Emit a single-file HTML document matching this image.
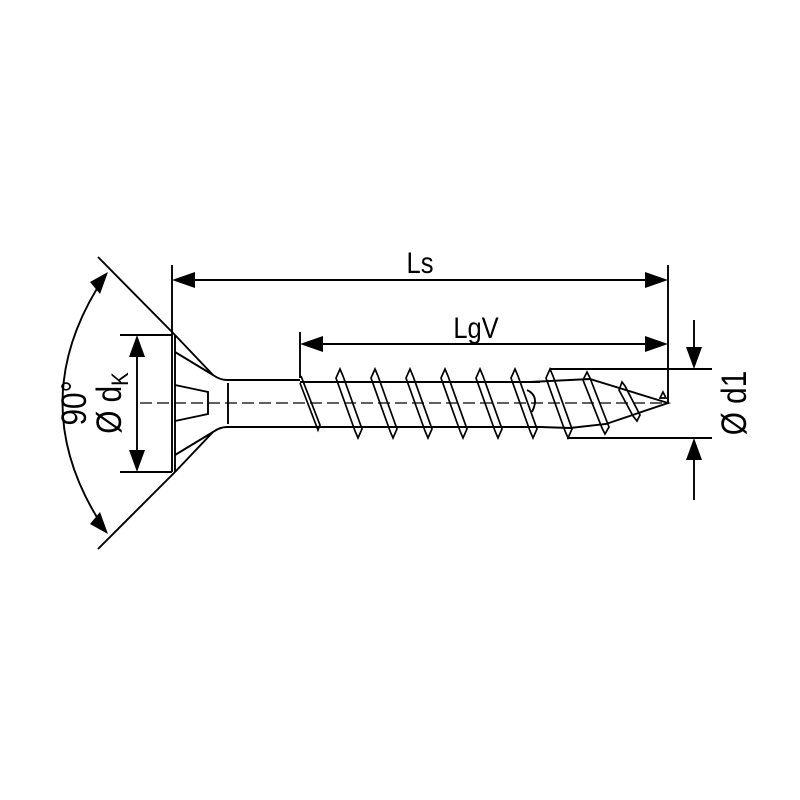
<!DOCTYPE html>
<html><head><meta charset="utf-8"><style>
html,body{margin:0;padding:0;background:#fff;}
svg{display:block}
text{font-family:"Liberation Sans",sans-serif;fill:#000}
</style></head><body>
<svg width="800" height="800" viewBox="0 0 800 800" xmlns="http://www.w3.org/2000/svg">
<g stroke="#000" stroke-width="1.9" fill="none">
<line x1="172" y1="265" x2="172" y2="335"/>
<line x1="668" y1="265" x2="668" y2="404"/>
<line x1="180" y1="280" x2="660" y2="280"/>
<line x1="300" y1="332" x2="300" y2="378"/>
<line x1="308" y1="344" x2="660" y2="344"/>
<line x1="98" y1="257" x2="175" y2="335"/>
<line x1="175" y1="472" x2="98" y2="549"/>
<path d="M105,276 Q20,403 105,530"/>
<line x1="120" y1="335" x2="172" y2="335"/>
<line x1="120" y1="472" x2="172" y2="472"/>
<line x1="137" y1="345" x2="137" y2="462"/>
<line x1="172" y1="335" x2="172" y2="472"/>
<line x1="175" y1="335" x2="175" y2="472"/>
<path d="M175,335 L213,375 Q220,380 227,380 L300,380"/>
<path d="M175,472 L213,432 Q220,427 227,427 L300,427"/>
<path d="M175,352 L213,375"/>
<path d="M175,455 L213,432"/>
<path d="M175,385 L208,392 L208,414 L175,421"/>
<line x1="228" y1="383" x2="228" y2="424"/>
<line x1="300" y1="382" x2="540" y2="382"/>
<line x1="300" y1="427" x2="540" y2="427"/>
<path d="M530,382 L570,380 L590,379 L668,403 L606,424 L570,428 L540,427"/>
<path d="M527,390 Q540,396 532,412"/>
<g stroke-width="1.7">
<path d="M301,376 L320,425 L318,430 L300,383"/>
<path d="M340,369 L343,376 L362,429 L358,438 L355,431 L336,378 Z"/>
<path d="M375,369 L378,376 L397,429 L393,438 L390,431 L371,378 Z"/>
<path d="M410,369 L413,376 L432,429 L428,438 L425,431 L406,378 Z"/>
<path d="M445,369 L448,376 L467,429 L463,438 L460,431 L441,378 Z"/>
<path d="M480,369 L483,376 L502,429 L498,438 L495,431 L476,378 Z"/>
<path d="M515,369 L518,376 L537,429 L533,438 L530,431 L511,378 Z"/>
<path d="M550,369 L553,376 L572,429 L568,438 L565,431 L546,378 Z"/>
<path d="M587,372 L590,378 L609,427 L605,434 L602,428 L583,380 Z"/>
<path d="M622,382 L625,386 L640,415 L637,421 L633,416 L619,390 Z"/>
<path d="M663,392 L666,398 L660,398 Z"/>
</g>
<line x1="140" y1="403" x2="668" y2="403" stroke-width="1.2" stroke-dasharray="12,5"/>
<line x1="550" y1="369" x2="712" y2="369"/>
<line x1="567" y1="438" x2="712" y2="438"/>
<line x1="694" y1="320" x2="694" y2="360"/>
<line x1="694" y1="447" x2="694" y2="500"/>
</g>
<g fill="#000">
<polygon points="172,280 195,272 195,288"/>
<polygon points="668,280 645,272 645,288"/>
<polygon points="300,344 323,336 323,352"/>
<polygon points="668,344 645,336 645,352"/>
<polygon points="137,335 129,357 145,357"/>
<polygon points="137,472 129,450 145,450"/>
<polygon points="694,369 686,347 702,347"/>
<polygon points="694,438 686,460 702,460"/>
<polygon points="108,272 90,282 100,294"/>
<polygon points="108,534 90,524 100,512"/>
</g>
<text transform="translate(420,273) scale(0.85,1)" font-size="30" text-anchor="middle">Ls</text>
<text transform="translate(476,338) scale(0.85,1)" font-size="30" text-anchor="middle">LgV</text>
<text transform="translate(86,403) rotate(-90) scale(0.85,1)" font-size="35" text-anchor="middle">90°</text>
<text transform="translate(121,403) rotate(-90) scale(0.85,1)" font-size="35" text-anchor="middle">Ø d<tspan font-size="24" dy="7">K</tspan></text>
<text transform="translate(746,403) rotate(-90) scale(0.85,1)" font-size="35" text-anchor="middle">Ø d1</text>
</svg>
</body></html>
